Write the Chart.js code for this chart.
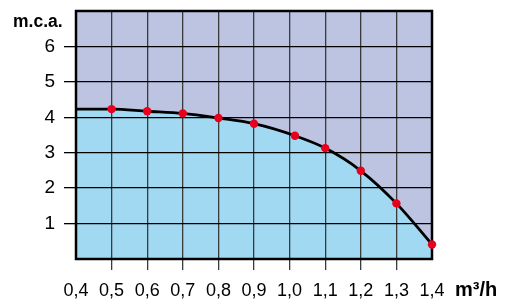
<!DOCTYPE html>
<html>
<head>
<meta charset="utf-8">
<script src="https://cdn.jsdelivr.net/npm/chart.js@4/dist/chart.umd.min.js"></script>
<style>
html,body{margin:0;padding:0;background:#fff;}
#wrap{width:506px;height:302px;position:relative;}
</style>
</head>
<body>
<div id="wrap"><canvas id="c" width="506" height="302"></canvas></div>
<script>
// Flow (m³/h) and head (m.c.a.)
const flows = [0.4, 0.5, 0.6, 0.7, 0.8, 0.9, 1.015, 1.1, 1.2, 1.3, 1.4];
const heads = [4.23, 4.23, 4.17, 4.11, 3.98, 3.82, 3.48, 3.13, 2.49, 1.57, 0.41];
const markerShown = [false, true, true, true, true, true, true, true, true, true, true];
const xTickValues = [0.4, 0.5, 0.6, 0.7, 0.8, 0.9, 1.0, 1.1, 1.2, 1.3, 1.4];
const xTickLabels = ['0,4', '0,5', '0,6', '0,7', '0,8', '0,9', '1,0', '1,1', '1,2', '1,3', '1,4'];
const yTickLabels = ['', '1', '2', '3', '4', '5', '6', ''];
const yAxisTitle = 'm.c.a.';
const xAxisTitle = 'm³/h';

const pts = flows.map((x, i) => ({x: x, y: heads[i]}));

const FONT = "'Liberation Sans', Arial, sans-serif";

const framePlugin = {
  id: 'frame',
  beforeDatasetsDraw(chart) {
    const {ctx, chartArea: a} = chart;
    ctx.save();
    ctx.strokeStyle = '#000';
    ctx.lineWidth = 2.5;
    ctx.strokeRect(a.left, a.top, a.right - a.left, a.bottom - a.top);
    ctx.restore();
  },
  afterDraw(chart) {
    const {ctx} = chart;
    ctx.save();
    ctx.fillStyle = '#000';
    ctx.textBaseline = 'middle';
    ctx.textAlign = 'left';
    ctx.font = 'bold 17.5px ' + FONT;
    ctx.fillText(yAxisTitle, 13, 22);
    ctx.font = 'bold 20px ' + FONT;
    ctx.fillText(xAxisTitle, 455, 290);
    ctx.restore();
  }
};

const edgeTransparent = (ctx, color) => {
  const s = ctx.scale;
  const v = ctx.tick ? ctx.tick.value : null;
  if (v === null) return color;
  if (Math.abs(v - s.min) < 1e-6 || Math.abs(v - s.max) < 1e-6) return 'rgba(0,0,0,0)';
  return color;
};

new Chart(document.getElementById('c'), {
  type: 'line',
  data: {
    datasets: [
      {
        data: pts,
        fill: 'end',
        backgroundColor: '#bcc4e2',
        borderWidth: 0,
        pointRadius: 0,
        cubicInterpolationMode: 'monotone'
      },
      {
        data: pts,
        fill: 'start',
        clip: 8,
        backgroundColor: '#a2d9f2',
        borderColor: '#000',
        borderWidth: 2.8,
        cubicInterpolationMode: 'monotone',
        pointRadius: (c) => markerShown[c.dataIndex] ? 4.2 : 0,
        pointBackgroundColor: '#e8001c',
        pointBorderWidth: 0,
        pointBorderColor: '#e8001c'
      }
    ]
  },
  options: {
    responsive: false,
    animation: false,
    events: [],
    layout: {padding: {left: 0, top: 11, right: 74, bottom: 0}},
    plugins: {
      legend: {display: false},
      tooltip: {enabled: false},
      filler: {drawTime: 'beforeDraw'}
    },
    scales: {
      x: {
        type: 'linear',
        min: 0.4,
        max: 1.4,
        afterBuildTicks: (s) => { s.ticks = xTickValues.map(v => ({value: v})); },
        afterFit: (s) => { s.height = 43; s.paddingLeft = 0; s.paddingRight = 0; },
        border: {display: false},
        grid: {
          color: (c) => edgeTransparent(c, '#3a3a3a'),
          lineWidth: 1.3,
          tickLength: 11,
          drawTicks: true
        },
        ticks: {
          color: '#000',
          font: {family: FONT, size: 18},
          padding: 10,
          maxRotation: 0,
          autoSkip: false,
          callback: (v, i) => xTickLabels[i]
        }
      },
      y: {
        type: 'linear',
        min: 0,
        max: 7,
        afterBuildTicks: (s) => { s.ticks = yTickLabels.map((l, i) => ({value: i})); },
        afterFit: (s) => { s.width = 76; s.paddingTop = 0; s.paddingBottom = 0; },
        border: {display: false},
        grid: {
          color: (c) => edgeTransparent(c, '#000'),
          lineWidth: 1.3,
          tickLength: 12,
          drawTicks: true
        },
        ticks: {
          color: '#000',
          font: {family: FONT, size: 19},
          padding: 9,
          autoSkip: false,
          callback: (v, i) => yTickLabels[i]
        }
      }
    }
  },
  plugins: [framePlugin]
});
</script>
</body>
</html>
